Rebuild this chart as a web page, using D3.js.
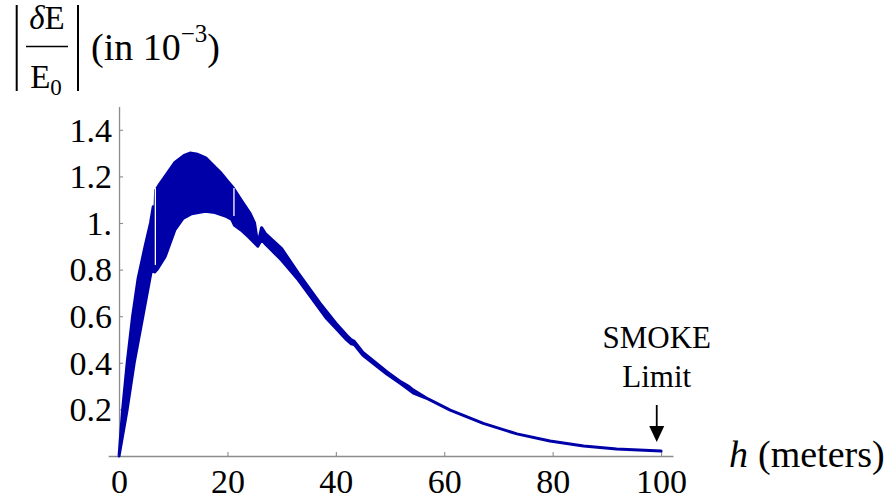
<!DOCTYPE html>
<html>
<head>
<meta charset="utf-8">
<script src="https://cdn.jsdelivr.net/npm/d3@7"></script>
<style>
  body { margin: 0; background: #fff; }
  text { font-family: "Liberation Serif", "DejaVu Serif", serif; fill: #000; }
</style>
</head>
<body>
<script>
// upper edge of the oscillation band (h in meters, value in 1e-3)
const upperH = [0, 0.66, 1.5, 2.5, 3.5, 4.8, 5.8, 6.3, 6.65, 6.75, 7.3, 8.5, 10.3, 12, 13.1, 14.5, 16, 17.7, 18.6, 20, 21.1, 22.5, 24.2, 25.0, 25.6, 26.3, 27, 30, 33.1, 37.1, 40, 42, 42.8, 43.4, 45, 49.4, 52, 53.5, 54.3, 57, 61.1, 67.2, 73.4, 79.5, 85.7, 91.8, 100];
const upperV = [0, 0.2, 0.4, 0.6, 0.76, 0.9, 1.0, 1.07, 1.07, 1.14, 1.16, 1.2, 1.26, 1.29, 1.30, 1.295, 1.28, 1.24, 1.22, 1.18, 1.15, 1.1, 1.04, 1.0, 0.91, 0.98, 0.955, 0.89, 0.784, 0.655, 0.57, 0.518, 0.5, 0.492, 0.445, 0.362, 0.318, 0.298, 0.283, 0.245, 0.197, 0.14, 0.095, 0.064, 0.043, 0.03, 0.021];

// lower edge of the band
const lowerH = [0, 1.5, 2.8, 4.4, 6.0, 6.6, 7.0, 8.5, 10.3, 11.8, 13.4, 15.9, 17.7, 19.6, 20.8, 21.3, 22.5, 23.9, 25.6, 26.3, 27, 30, 33.1, 38.3, 40, 42, 42.8, 43.4, 45, 49.4, 52, 53.5, 54.3, 57, 61.1, 67.2, 73.4, 79.5, 85.7, 91.8, 100];
const lowerV = [0, 0.2, 0.4, 0.6, 0.8, 0.79, 0.8, 0.855, 0.97, 1.02, 1.04, 1.05, 1.045, 1.03, 1.015, 0.99, 0.97, 0.94, 0.9, 0.93, 0.91, 0.84, 0.755, 0.59, 0.548, 0.498, 0.482, 0.478, 0.432, 0.352, 0.31, 0.284, 0.27, 0.245, 0.197, 0.14, 0.095, 0.064, 0.043, 0.03, 0.021];

// thin white gaps seen inside the band
const gapH  = [6.7, 21.2];
const gapLo = [0.82, 1.03];
const gapHi = [1.15, 1.15];

const xTicks = [0, 20, 40, 60, 80, 100];
const yTicks = [0.2, 0.4, 0.6, 0.8, 1.0, 1.2, 1.4];
const yTickLabels = ["0.2", "0.4", "0.6", "0.8", "1.", "1.2", "1.4"];

const smokeH = 99.2;

const width = 896, height = 503;
const blue = "#0000a8";
const axisGrey = "#8c8c8c";

const svg = d3.select("body").append("svg")
    .attr("width", width)
    .attr("height", height);

const x = d3.scaleLinear().domain([-2, 102.2]).range([108.2, 673]);
const y = d3.scaleLinear().domain([0, 1.5]).range([456, 106.5]);

// axes
const xAxis = svg.append("g")
    .attr("transform", `translate(0,${y(0)})`)
    .call(d3.axisBottom(x).tickValues(xTicks).tickSize(-4).tickSizeOuter(0));
xAxis.select(".domain").attr("stroke", axisGrey).attr("stroke-width", 1.3);
xAxis.selectAll(".tick line").attr("stroke", axisGrey).attr("stroke-width", 1.1);
xAxis.selectAll(".tick text")
    .attr("y", 37).attr("dy", 0)
    .style("font-family", '"Liberation Serif", serif')
    .style("font-size", "34px")
    .attr("fill", "#000");
xAxis.selectAll(".tick").filter(d => d === 0).select("line").remove();

const yAxis = svg.append("g")
    .attr("transform", `translate(${x(0)},0)`)
    .call(d3.axisLeft(y).tickValues(yTicks).tickSize(-4).tickSizeOuter(0).tickPadding(7)
        .tickFormat((d, i) => yTickLabels[i]));
yAxis.select(".domain").attr("stroke", axisGrey).attr("stroke-width", 1.3);
yAxis.selectAll(".tick line").attr("stroke", axisGrey).attr("stroke-width", 1.1);
yAxis.selectAll(".tick text")
    .attr("dy", "0.33em")
    .style("font-family", '"Liberation Serif", serif')
    .style("font-size", "34px")
    .attr("fill", "#000");

// band: upper edge forward, lower edge back
const upperPts = upperH.map((h, i) => [h, upperV[i]]);
const lowerPts = lowerH.map((h, i) => [h, lowerV[i]]).reverse();
const band = d3.line().x(d => x(d[0])).y(d => y(d[1]));

svg.append("path")
    .attr("d", band(upperPts.concat(lowerPts)) + "Z")
    .attr("fill", blue)
    .attr("stroke", blue)
    .attr("stroke-width", 3)
    .attr("stroke-linejoin", "round");

svg.selectAll("line.gap")
    .data(gapH)
    .enter()
    .append("line")
    .attr("class", "gap")
    .attr("x1", d => x(d)).attr("x2", d => x(d))
    .attr("y1", (d, i) => y(gapLo[i]))
    .attr("y2", (d, i) => y(gapHi[i]))
    .attr("stroke", "#fff")
    .attr("stroke-width", 1.3);

// y label |dE/E0| (in 10^-3)
const lab = svg.append("g");
[16.7, 78].forEach(bx => {
    lab.append("line")
        .attr("x1", bx).attr("x2", bx).attr("y1", 5).attr("y2", 91)
        .attr("stroke", "#000").attr("stroke-width", 2);
});
lab.append("line")
    .attr("x1", 26).attr("x2", 68).attr("y1", 46.5).attr("y2", 46.5)
    .attr("stroke", "#000").attr("stroke-width", 1.6);
const num = lab.append("text")
    .attr("x", 47).attr("y", 29)
    .attr("text-anchor", "middle")
    .style("font-size", "33px");
num.append("tspan").style("font-style", "italic").text("δ");
num.append("tspan").text("E");
const den = lab.append("text")
    .attr("x", 46).attr("y", 88)
    .attr("text-anchor", "middle")
    .style("font-size", "33px");
den.append("tspan").text("E");
den.append("tspan").attr("dy", 7).style("font-size", "23px").text("0");

const unit = lab.append("text")
    .attr("x", 91).attr("y", 60)
    .style("font-size", "38px");
unit.append("tspan").text("(in 10");
unit.append("tspan").attr("dy", -18).style("font-size", "25px").text("−3");
unit.append("tspan").attr("dy", 18).text(")");

// x label
const xl = svg.append("text")
    .attr("x", 729).attr("y", 467)
    .style("font-size", "38px");
xl.append("tspan").style("font-style", "italic").text("h");
xl.append("tspan").attr("dx", 10).text("(meters)");

// SMOKE limit annotation
const sx = x(smokeH);
svg.append("text")
    .attr("x", sx).attr("y", 348)
    .attr("text-anchor", "middle")
    .style("font-size", "31px")
    .text("SMOKE");
svg.append("text")
    .attr("x", sx).attr("y", 387)
    .attr("text-anchor", "middle")
    .style("font-size", "31px")
    .text("Limit");
svg.append("line")
    .attr("x1", sx).attr("x2", sx).attr("y1", 405).attr("y2", 430)
    .attr("stroke", "#000").attr("stroke-width", 1.8);
svg.append("path")
    .attr("d", `M${sx - 7.5},426 L${sx + 7.5},426 L${sx},442 Z`)
    .attr("fill", "#000");
</script>
</body>
</html>
